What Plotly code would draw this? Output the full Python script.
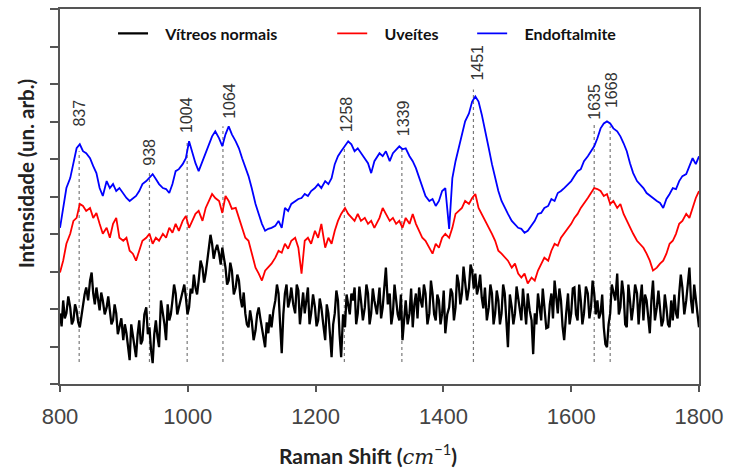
import plotly.graph_objects as go

# Raman shift sample positions (cm^-1)
shift = [800, 805, 810, 816, 821, 826, 831, 836, 841, 847, 852, 857, 862, 867, 873, 878, 883, 888, 893, 899,
         904, 909, 914, 919, 924, 929, 935, 940, 945, 950, 955, 961, 966, 971, 976, 981, 986, 992, 997, 1002,
         1007, 1012, 1017, 1023, 1028, 1033, 1038, 1043,
         1049, 1054, 1059, 1064, 1069, 1075, 1080, 1085, 1090, 1095, 1100, 1106, 1111, 1116, 1121, 1126, 1131, 1137,
         1142, 1147, 1152, 1157, 1162, 1168, 1173, 1178, 1183, 1188, 1193, 1199, 1204, 1209, 1215, 1220, 1225, 1230,
         1235, 1240, 1246, 1251, 1256, 1261, 1266, 1271, 1277, 1282, 1287, 1292,
         1300, 1305, 1310, 1316, 1321, 1326, 1331, 1336, 1341, 1347, 1352, 1357, 1362, 1367, 1372, 1378, 1383, 1388,
         1393, 1398, 1403, 1409, 1414, 1419, 1424, 1429, 1434, 1440, 1445, 1450, 1455, 1460, 1465, 1471, 1476, 1481,
         1486, 1491, 1496, 1501, 1507, 1512, 1517, 1522, 1527, 1532, 1538,
         1543, 1548, 1553, 1558, 1564, 1569, 1574, 1579, 1584, 1589, 1595, 1600, 1605, 1610, 1615, 1620, 1626, 1631,
         1636, 1641, 1646, 1651, 1656, 1661, 1666, 1672, 1677, 1682, 1687, 1692, 1697, 1703, 1708, 1713, 1718, 1723,
         1728, 1734, 1739, 1744, 1749, 1754, 1759, 1764, 1769, 1774, 1780, 1785, 1790, 1795, 1800]

# Intensities (arbitrary units)
endoftalmite = [157, 177, 197, 207, 224, 237, 241, 234, 232, 227, 219, 212, 197, 189, 204, 197, 201, 194, 197, 191,
                187, 184, 187, 189, 194, 201, 204, 207, 211, 206, 201, 197, 196, 192, 201, 214, 216, 221, 227, 244,
                232, 222, 214, 224, 234, 242, 249, 254,
                247, 239, 251, 259, 251, 244, 237, 227, 219, 209, 197, 181, 171, 161, 154, 156, 157, 159,
                164, 157, 177, 174, 181, 184, 186, 187, 191, 189, 194, 197, 201, 197, 204, 201, 207, 221,
                229, 234, 239, 244, 241, 234, 237, 232, 226, 222, 212, 224,
                232, 229, 234, 224, 232, 236, 239, 236, 237, 229, 224, 217, 207, 197, 189, 184, 186, 179,
                184, 194, 197, 156, 207, 224, 237, 251, 264, 272, 284, 289, 284, 271, 254, 237, 221, 207,
                194, 184, 177, 171, 164, 161, 157, 156, 152, 154, 159,
                164, 171, 172, 177, 179, 186, 184, 192, 194, 197, 201, 204, 209, 214, 216, 224, 229, 234,
                239, 247, 257, 262, 264, 262, 257, 254, 249, 242, 234, 222, 212, 204, 201, 197, 192, 189,
                187, 184, 182, 177, 186, 191, 197, 196, 204, 209, 211, 219, 227, 221, 229]

uveites = [112, 124, 141, 151, 164, 167, 181, 179, 174, 177, 167, 172, 161, 151, 157, 147, 161, 167, 147, 144,
           147, 134, 131, 124, 134, 144, 147, 151, 141, 147, 144, 151, 147, 157, 152, 161, 154, 164, 169, 157,
           164, 171, 174, 164, 177, 184, 191, 187,
           184, 172, 189, 184, 176, 177, 167, 157, 147, 144, 131, 117, 111, 104, 114, 117, 121, 127,
           134, 132, 141, 136, 144, 147, 137, 111, 144, 147, 141, 154, 147, 161, 137, 147, 141, 154,
           164, 171, 177, 171, 167, 164, 171, 164, 167, 161, 164, 157,
           167, 177, 171, 164, 167, 161, 164, 157, 167, 161, 171, 161, 154, 147, 144, 137, 131, 141,
           137, 147, 151, 147, 157, 171, 174, 177, 184, 181, 187, 191, 177, 171, 164, 157, 151, 144,
           134, 131, 127, 124, 117, 121, 111, 107, 111, 101, 107,
           104, 114, 121, 127, 124, 134, 141, 139, 147, 151, 157, 161, 167, 171, 177, 181, 187, 192,
           197, 196, 194, 189, 191, 181, 184, 177, 181, 171, 164, 157, 151, 144, 141, 137, 131, 124,
           114, 117, 121, 124, 131, 141, 144, 151, 161, 164, 171, 167, 177, 187, 194]

normais = [71, 84, 71, 77, 64, 74, 57, 77, 97, 104, 91, 97, 74, 84, 77, 71, 64, 71, 57, 44,
           51, 24, 47, 27, 64, 44, 77, 57, 21, 64, 37, 71, 44, 64, 84, 91, 77, 94, 87, 77,
           91, 97, 104, 117, 111, 131, 141, 134,
           131, 137, 117, 104, 114, 97, 104, 77, 71, 57, 64, 54, 77, 57, 37, 51, 57, 84,
           91, 31, 91, 77, 97, 71, 94, 77, 71, 97, 71, 77, 64, 77, 44, 71, 27, 71,
           84, 27, 57, 77, 91, 97, 71, 84, 77, 91, 71, 84,
           97, 77, 117, 91, 71, 84, 64, 44, 84, 71, 57, 91, 97, 77, 91, 71, 91, 64,
           84, 71, 51, 77, 91, 77, 101, 91, 104, 97, 114, 111, 97, 87, 97, 77, 91, 71,
           84, 71, 91, 37, 77, 71, 87, 64, 77, 91, 64,
           71, 91, 64, 77, 57, 91, 104, 71, 84, 44, 91, 71, 97, 64, 84, 71, 91, 77,
           91, 84, 71, 57, 37, 71, 91, 111, 77, 91, 57, 84, 77, 91, 84, 64, 84, 51,
           104, 77, 71, 64, 77, 57, 64, 71, 91, 97, 84, 117, 71, 84, 57]

# readings of the black (noisy) spectrum between consecutive shift samples
normais_between = [58, 66, 88, 60, 80, 62, 70, 90, 84, 112, 80, 86, 92, 70, 88, 60, 80, 50, 66, 60,
                   38, 60, 34, 50, 40, 70, 50, 34, 50, 48, 84, 60, 80, 70, 100, 70, 86, 100, 70, 96,
                   110, 90, 124, 102, 124, 150, 126, 140,
                   120, 126, 100, 122, 90, 110, 86, 92, 60, 74, 44, 70, 66, 48, 62, 70, 74, 100, 60, 70,
                   100, 84, 80, 100, 60, 92, 84, 60, 90, 58, 86, 60, 80, 50, 60, 94, 50, 70, 90, 70,
                   84, 60, 98, 64, 100, 60, 96, 70,
                   66, 100, 80, 60, 100, 70, 90, 66, 60, 96, 80, 66, 84, 100, 60, 104, 70, 90, 60, 94,
                   70, 96, 64, 110, 80, 118, 84, 120, 96, 90, 110, 76, 64, 100, 60, 94, 60, 100, 64, 90,
                   60, 98, 74, 96, 60, 74, 30,
                   60, 80, 96, 56, 80, 66, 84, 96, 58, 70, 60, 96, 70, 100, 60, 98, 66, 104, 70, 66,
                   90, 40, 60, 100, 84, 70, 104, 60, 100, 64, 100, 60, 100, 90, 70, 84, 64, 94, 58, 90,
                   60, 84, 90, 66, 110, 70, 100, 84, 100, 70]

series_names = ["Vítreos normais", "Uveítes", "Endoftalmite"]

# Peak markers
peak_labels = ["837", "938", "1004", "1064", "1258", "1339", "1451", "1635", "1668"]
peak_line_x = [830, 940, 999, 1055, 1245, 1335, 1447, 1636, 1661]
peak_line_top = [234, 212, 244, 259, 239, 239, 296, 261, 259]
peak_line_bottom = 22
label_x = [830, 940, 998, 1065, 1249, 1338, 1454, 1636, 1663]
label_y = [272, 233, 270, 285, 271, 267, 323, 284, 296]

x_ticks = [800, 1000, 1200, 1400, 1600, 1800]

# combine black readings in order of wavenumber
black_x, black_y = [], []
for i in range(len(shift)):
    black_x.append(shift[i])
    black_y.append(normais[i])
    if i < len(normais_between):
        black_x.append((shift[i] + shift[i + 1]) / 2)
        black_y.append(normais_between[i])

fig = go.Figure()

# dotted peak guide lines
lx, ly = [], []
for px, top in zip(peak_line_x, peak_line_top):
    lx += [px, px, None]
    ly += [peak_line_bottom, top, None]
fig.add_trace(go.Scatter(x=lx, y=ly, mode="lines", showlegend=False, hoverinfo="skip",
                         line=dict(color="#7a7a7a", width=1.2, dash="dot")))

colors = ["#000000", "#ff0000", "#0000ff"]
widths = [2.3, 1.8, 1.8]
xs = [black_x, shift, shift]
data = [black_y, uveites, endoftalmite]
legends = ["legend", "legend2", "legend3"]
nbsp = "\u00a0\u00a0\u00a0"
for name, x, y, c, w, lg in zip(series_names, xs, data, colors, widths, legends):
    fig.add_trace(go.Scatter(x=x, y=y, mode="lines", name=nbsp + "<b>" + name + "</b>", legend=lg,
                             line=dict(color=c, width=w)))

for t, x, y in zip(peak_labels, label_x, label_y):
    fig.add_annotation(x=x, y=y, text=t, textangle=-90, showarrow=False,
                       xanchor="center", yanchor="middle",
                       font=dict(family="Liberation Sans, Arial", size=16, color="#333333"))

# axis titles
fig.add_annotation(xref="paper", yref="paper", x=-0.054, y=0.563, text="<b>Intensidade (un. arb.)</b>",
                   textangle=-90, showarrow=False, xanchor="center", yanchor="middle",
                   font=dict(family="Lato", size=20.5, color="#222222"))
fig.add_annotation(xref="paper", yref="paper", x=0.482, y=-0.188,
                   text="<b>Raman Shift (</b><span style='font-family:DejaVu Serif'><i>cm</i></span><sup>−1</sup><b>)</b>",
                   showarrow=False, xanchor="center", yanchor="middle",
                   font=dict(family="Lato", size=21, color="#222222"))

legend_common = dict(orientation="h", bgcolor="rgba(0,0,0,0)", borderwidth=0, yanchor="middle", y=0.935,
                     xanchor="left", font=dict(family="Lato", size=16, color="#111111"),
                     itemwidth=30)

fig.update_layout(
    width=730, height=471,
    margin=dict(l=60, r=27, t=7, b=87),
    paper_bgcolor="white", plot_bgcolor="white",
    legend=dict(**legend_common, x=0.083),
    legend2=dict(**legend_common, x=0.426),
    legend3=dict(**legend_common, x=0.645),
    xaxis=dict(range=[800, 1800], tickvals=x_ticks, ticks="outside", ticklen=6, tickwidth=1.5,
               tickcolor="#555555", showline=True, linecolor="#555555", linewidth=1.5, mirror=True,
               showgrid=False, zeroline=False, ticklabelstandoff=6,
               tickfont=dict(family="Liberation Sans, Arial", size=22, color="#444444")),
    yaxis=dict(range=[0, 377], dtick=37.7, tick0=0, ticks="outside", ticklen=8, tickwidth=1.5,
               tickcolor="#555555", showline=True, linecolor="#555555", linewidth=1.5, mirror=True,
               showgrid=False, zeroline=False, showticklabels=False),
)

fig.write_html("out.html")
